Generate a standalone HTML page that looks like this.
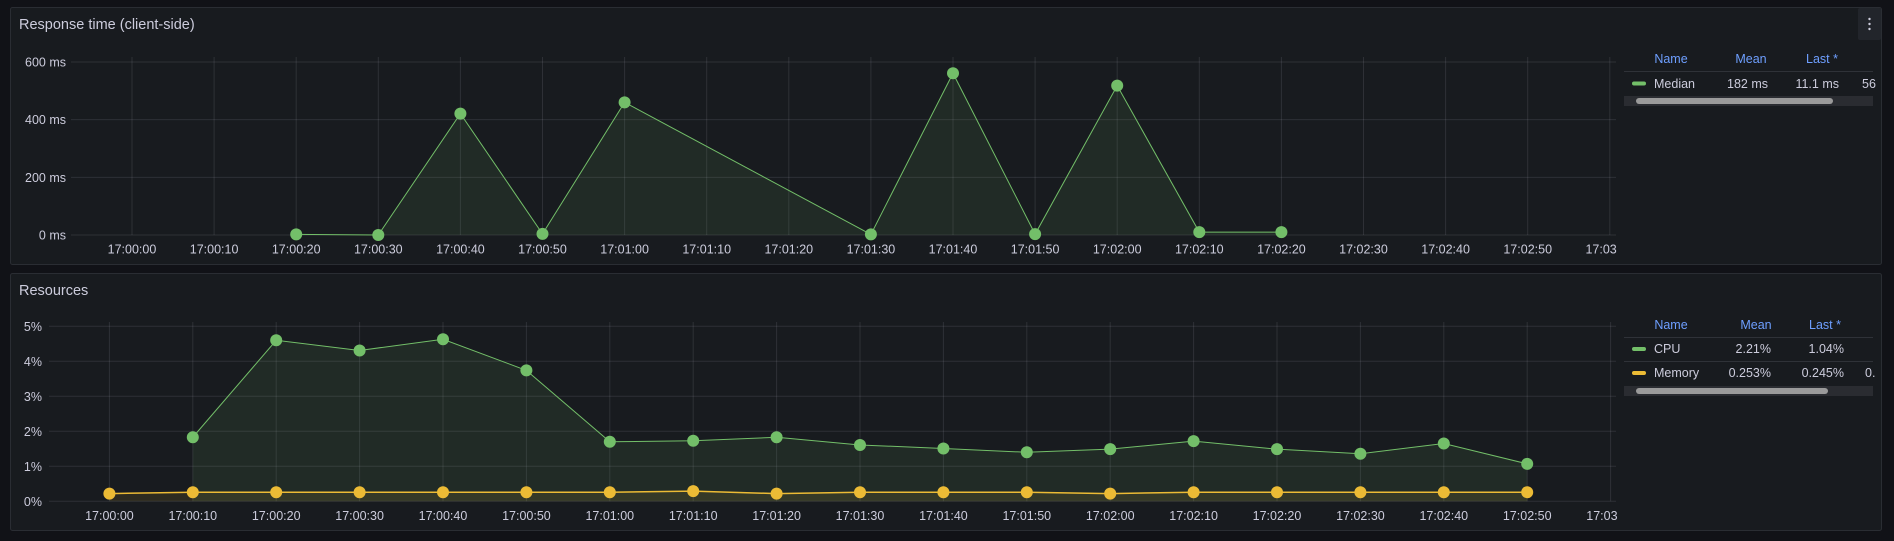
<!DOCTYPE html>
<html><head><meta charset="utf-8"><style>
html,body{margin:0;padding:0;background:#111217;width:1894px;height:541px;overflow:hidden;font-family:"Liberation Sans",sans-serif}
svg text{font-family:"Liberation Sans",sans-serif}
</style></head><body>
<svg id="root" width="1894" height="541" xmlns="http://www.w3.org/2000/svg">
<rect x="10.5" y="7.5" width="1871" height="257" rx="2" fill="#181b1f" stroke="#2a2d33"/>
<text x="19" y="29" fill="#ccccdc" font-size="14.5">Response time (client-side)</text>
<g><rect x="1858" y="8" width="23" height="32" rx="2" fill="#22252b"/><circle cx="1869.5" cy="19" r="1.2" fill="#ccccdc"/><circle cx="1869.5" cy="24" r="1.2" fill="#ccccdc"/><circle cx="1869.5" cy="29" r="1.2" fill="#ccccdc"/></g>
<rect x="10.5" y="273.5" width="1871" height="257" rx="2" fill="#181b1f" stroke="#2a2d33"/>
<text x="19" y="295" fill="#ccccdc" font-size="14.5">Resources</text>
<g id="c1"></g>
<g id="c2"></g>
<g font-size="12.5">
<text x="1671" y="63" fill="#6e9fff" text-anchor="middle">Name</text>
<text x="1751" y="63" fill="#6e9fff" text-anchor="middle">Mean</text>
<text x="1822" y="63" fill="#6e9fff" text-anchor="middle">Last *</text>
<line x1="1624" y1="71.5" x2="1873" y2="71.5" stroke="#2f3238"/>
<rect x="1632" y="81.5" width="14" height="4" rx="2" fill="#73bf69"/>
<text x="1654" y="88" fill="#ccccdc">Median</text>
<text x="1768" y="88" fill="#ccccdc" text-anchor="end">182 ms</text>
<text x="1839" y="88" fill="#ccccdc" text-anchor="end">11.1 ms</text>
<text x="1862" y="88" fill="#ccccdc">56</text>
<rect x="1624" y="96" width="249" height="10" fill="#2a2c31"/>
<rect x="1636" y="98" width="197" height="6" rx="3" fill="#9a9a9a"/>
</g>
<g font-size="12.5">
<text x="1671" y="329" fill="#6e9fff" text-anchor="middle">Name</text>
<text x="1756" y="329" fill="#6e9fff" text-anchor="middle">Mean</text>
<text x="1825" y="329" fill="#6e9fff" text-anchor="middle">Last *</text>
<line x1="1624" y1="337.5" x2="1873" y2="337.5" stroke="#2f3238"/>
<rect x="1632" y="347" width="14" height="4" rx="2" fill="#73bf69"/>
<text x="1654" y="353" fill="#ccccdc">CPU</text>
<text x="1771" y="353" fill="#ccccdc" text-anchor="end">2.21%</text>
<text x="1844" y="353" fill="#ccccdc" text-anchor="end">1.04%</text>
<line x1="1624" y1="361.5" x2="1873" y2="361.5" stroke="#2f3238"/>
<rect x="1632" y="371" width="14" height="4" rx="2" fill="#ecbb35"/>
<text x="1654" y="377" fill="#ccccdc">Memory</text>
<text x="1771" y="377" fill="#ccccdc" text-anchor="end">0.253%</text>
<text x="1844" y="377" fill="#ccccdc" text-anchor="end">0.245%</text>
<text x="1865" y="377" fill="#ccccdc">0.</text>
<rect x="1624" y="386" width="249" height="10" fill="#2a2c31"/>
<rect x="1636" y="388" width="192" height="6" rx="3" fill="#9a9a9a"/>
</g>
</svg>
<script>
const xTickLabels = ["17:00:00","17:00:10","17:00:20","17:00:30","17:00:40","17:00:50","17:01:00","17:01:10","17:01:20","17:01:30","17:01:40","17:01:50","17:02:00","17:02:10","17:02:20","17:02:30","17:02:40","17:02:50","17:03:00"];
const rtTicks = [0,200,400,600];
const rtTimes = [2,3,4,5,6,9,10,11,12,13,14];
const rtMedian = [2,0,421,4,460,2,561,3,518,10,10];
const resTicks = [0,1,2,3,4,5];
const resTimes = [0,1,2,3,4,5,6,7,8,9,10,11,12,13,14,15,16,17];
const cpu = [null,1.83,4.6,4.31,4.63,3.74,1.70,1.73,1.83,1.61,1.51,1.40,1.49,1.72,1.49,1.36,1.65,1.07];
const memory = [0.22,0.26,0.26,0.26,0.26,0.26,0.26,0.29,0.22,0.26,0.26,0.26,0.22,0.26,0.26,0.26,0.26,0.26];

const NS="http://www.w3.org/2000/svg";
function mk(tag,attrs,parent){const e=document.createElementNS(NS,tag);for(const k in attrs)e.setAttribute(k,attrs[k]);parent.appendChild(e);return e;}

function chart(g,cfg){
  const xs=i=>cfg.x0+i*cfg.dx;
  const ys=v=>cfg.yb-(v-cfg.ymin)/(cfg.ymax-cfg.ymin)*(cfg.yb-cfg.yt);
  cfg.yTicks.forEach(t=>{
    const y=ys(t);
    const l=mk('line',{x1:cfg.left,x2:cfg.right,y1:y,y2:y,stroke:'rgba(204,204,220,0.12)'},g);
    
    
    const tx=mk('text',{x:cfg.labelX,y:y+4.5,fill:'#ccccdc','font-size':12.5,'text-anchor':'end'},g);
    tx.textContent=cfg.fmt(t);
    
    
  });
  xTickLabels.forEach((lab,i)=>{
    const x=xs(i);
    const l=mk('line',{x1:x,x2:x,y1:cfg.gt,y2:cfg.yb,stroke:'rgba(204,204,220,0.12)'},g);
    
    
    const tx=mk('text',{x:x,y:cfg.xlY,fill:'#ccccdc','font-size':12.5,'text-anchor':'middle'},g);
    tx.textContent=lab;
    
    
  });
  const cp=mk('rect',{x:cfg.right+1,y:cfg.xlY-14,width:20,height:20,fill:'#181b1f'},g);
  
  
  cfg.series.forEach(s=>{
    const pts=[];
    s.times.forEach((t,i)=>{if(s.vals[i]!==null)pts.push([xs(t),ys(s.vals[i])]);});
    const area=mk('path',{d:'M'+pts[0][0]+','+cfg.yb+' L'+pts.map(p=>p.join(',')).join(' L')+' L'+pts[pts.length-1][0]+','+cfg.yb+' Z',fill:s.color,'fill-opacity':0.1},g);
    
    
    const line=mk('polyline',{points:pts.map(p=>p.join(',')).join(' '),fill:'none',stroke:s.color,'stroke-width':s.w},g);
    
    
    pts.forEach(p=>{
      const c=mk('circle',{cx:p[0],cy:p[1],r:6,fill:s.color},g);
      
      
    });
  });
}
chart(document.getElementById('c1'),{x0:132,dx:82.1,yb:235,yt:62,ymin:0,ymax:600,left:71,right:1616,gt:57,xlY:253.5,labelX:66,yTicks:rtTicks,fmt:v=>v+' ms',
  series:[{name:'median',times:rtTimes,vals:rtMedian,color:'#73bf69',w:1}]});
chart(document.getElementById('c2'),{x0:109.4,dx:83.4,yb:501.3,yt:326.3,ymin:0,ymax:5,left:49,right:1616,gt:322,xlY:520,labelX:42,yTicks:resTicks,fmt:v=>v+'%',
  series:[{name:'cpu',times:resTimes,vals:cpu,color:'#73bf69',w:1},{name:'memory',times:resTimes,vals:memory,color:'#ecbb35',w:1.5}]});
</script>
</body></html>
